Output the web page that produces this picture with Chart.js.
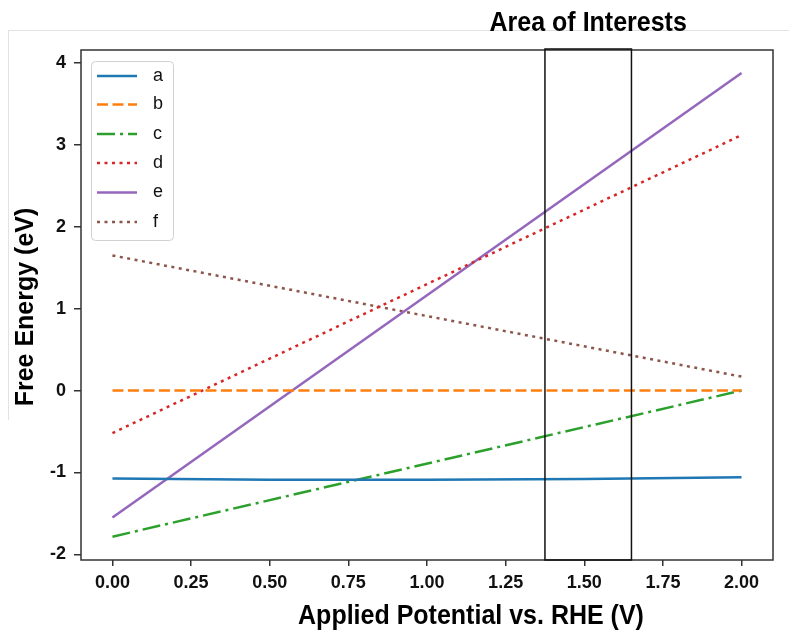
<!DOCTYPE html>
<html><head><meta charset="utf-8">
<script src="https://cdn.jsdelivr.net/npm/chart.js@4"></script>
<style>html,body{margin:0;padding:0;background:#fff;} #wrap{position:relative;width:789px;height:631px;}</style>
</head><body><div id="wrap"><canvas id="c" width="789" height="631"></canvas></div>
<script>
const seriesLabels = ['a','b','c','d','e','f'];
const seriesColors = ['#1f77b4','#ff7f0e','#2ca02c','#d62728','#9467bd','#8c564b'];
const aPotential = [0, 0.5, 1.0, 1.5, 2.0];
const aEnergy = [-1.075, -1.09, -1.09, -1.08, -1.06];
const endPotential = [0, 2];
const bEnergy = [0, 0];
const cEnergy = [-1.785, 0.0];
const dEnergy = [-0.52, 3.12];
const eEnergy = [-1.55, 3.88];
const fEnergy = [1.65, 0.17];
const xTickValues = [0, 0.25, 0.5, 0.75, 1.0, 1.25, 1.5, 1.75, 2.0];
const yTickValues = [-2, -1, 0, 1, 2, 3, 4];
const areaRange = [1.375, 1.65];
const xTitle = 'Applied Potential vs. RHE (V)';
const yTitle = 'Free Energy (eV)';
const areaTitle = 'Area of Interests';

const FONT = '"Liberation Sans", Arial, sans-serif';
const dashes = [[], [11, 4.5], [18, 5, 3, 5], [3, 4.5], [], [3, 4.5]];
const seriesX = [aPotential, endPotential, endPotential, endPotential, endPotential, endPotential];
const seriesY = [aEnergy, bEnergy, cEnergy, dEnergy, eEnergy, fEnergy];

const datasets = seriesLabels.map((lab, i) => ({
  label: lab,
  data: seriesX[i].map((x, j) => ({x: x, y: seriesY[i][j]})),
  borderColor: seriesColors[i],
  backgroundColor: seriesColors[i],
  borderWidth: 2.5,
  borderDash: dashes[i],
  borderCapStyle: 'butt',
  pointRadius: 0,
  tension: 0,
  fill: false
}));

const decor = {
  id: 'decor',
  beforeDraw(chart) {
    const ctx = chart.ctx;
    ctx.save();
    ctx.fillStyle = '#fff';
    ctx.fillRect(0, 0, chart.width, chart.height);
    ctx.strokeStyle = '#e2e2e2';
    ctx.lineWidth = 1;
    ctx.beginPath();
    ctx.moveTo(8, 30.5); ctx.lineTo(789, 30.5);
    ctx.moveTo(8.5, 30); ctx.lineTo(8.5, 420);
    ctx.stroke();
    ctx.restore();
  },
  afterDraw(chart) {
    const ctx = chart.ctx;
    const a = chart.chartArea;
    const xs = chart.scales.x;
    ctx.save();
    ctx.strokeStyle = '#333';
    ctx.lineWidth = 1.5;
    ctx.strokeRect(a.left, a.top, a.right - a.left, a.bottom - a.top);
    const x1 = xs.getPixelForValue(areaRange[0]);
    const x2 = xs.getPixelForValue(areaRange[1]);
    ctx.strokeStyle = '#111';
    ctx.lineWidth = 1.5;
    ctx.strokeRect(x1, a.top - 1, x2 - x1, a.bottom - a.top + 1);
    ctx.fillStyle = '#000';
    ctx.font = 'bold 25px ' + FONT;
    ctx.textAlign = 'center';
    ctx.textBaseline = 'alphabetic';
    ctx.save();
    ctx.translate((x1 + x2) / 2, 31);
    ctx.scale(1, 1.12);
    ctx.fillText(areaTitle, 0, 0);
    ctx.restore();
    ctx.save();
    ctx.translate(471, 624);
    ctx.scale(1, 1.08);
    ctx.fillText(xTitle, 0, 0);
    ctx.restore();
    ctx.save();
    ctx.translate(33, 307);
    ctx.rotate(-Math.PI / 2);
    ctx.fillText(yTitle, 0, 0);
    ctx.restore();
    const lx = 91, ly = 61, lw = 82, lh = 179;
    ctx.fillStyle = 'rgba(255,255,255,0.8)';
    ctx.strokeStyle = '#d0d0d0';
    ctx.lineWidth = 1;
    ctx.beginPath();
    ctx.roundRect(lx + 0.5, ly + 0.5, lw, lh, 4);
    ctx.fill();
    ctx.stroke();
    const rowY = [76, 104.5, 134, 163, 192.5, 222];
    chart.data.datasets.forEach((ds, i) => {
      const y = rowY[i];
      ctx.strokeStyle = ds.borderColor;
      ctx.lineWidth = ds.borderWidth;
      ctx.setLineDash(ds.borderDash);
      ctx.lineCap = 'butt';
      ctx.beginPath();
      ctx.moveTo(97, y); ctx.lineTo(137, y);
      ctx.stroke();
      ctx.setLineDash([]);
      ctx.fillStyle = '#111';
      ctx.font = '18px ' + FONT;
      ctx.textAlign = 'left';
      ctx.textBaseline = 'middle';
      ctx.fillText(ds.label, 153, y);
    });
    ctx.restore();
  }
};

new Chart(document.getElementById('c'), {
  type: 'line',
  data: { datasets: datasets },
  options: {
    responsive: false,
    animation: false,
    devicePixelRatio: 1,
    layout: { padding: { left: 0, right: 16, top: 50, bottom: 0 } },
    plugins: { legend: { display: false }, tooltip: { enabled: false }, title: { display: false } },
    scales: {
      x: {
        type: 'linear', min: -0.1, max: 2.1,
        afterFit(s) { s.height = 71; },
        afterBuildTicks(s) { s.ticks = xTickValues.map(v => ({ value: v })); },
        grid: { drawOnChartArea: false, drawTicks: true, tickLength: 6, color: '#333', lineWidth: 1.5 },
        border: { display: false },
        ticks: { color: '#111', font: { family: FONT, size: 18, weight: 'bold' }, padding: 6,
          maxRotation: 0, autoSkip: false, callback: v => Number(v).toFixed(2) }
      },
      y: {
        type: 'linear', min: -2.07, max: 4.16,
        afterFit(s) { s.width = 81; },
        afterBuildTicks(s) { s.ticks = yTickValues.map(v => ({ value: v })); },
        grid: { drawOnChartArea: false, drawTicks: true, tickLength: 7, color: '#333', lineWidth: 1.5 },
        border: { display: false },
        ticks: { color: '#111', font: { family: FONT, size: 18, weight: 'bold' }, padding: 8,
          autoSkip: false, callback: v => String(v) }
      }
    }
  },
  plugins: [decor]
});
</script></body></html>
